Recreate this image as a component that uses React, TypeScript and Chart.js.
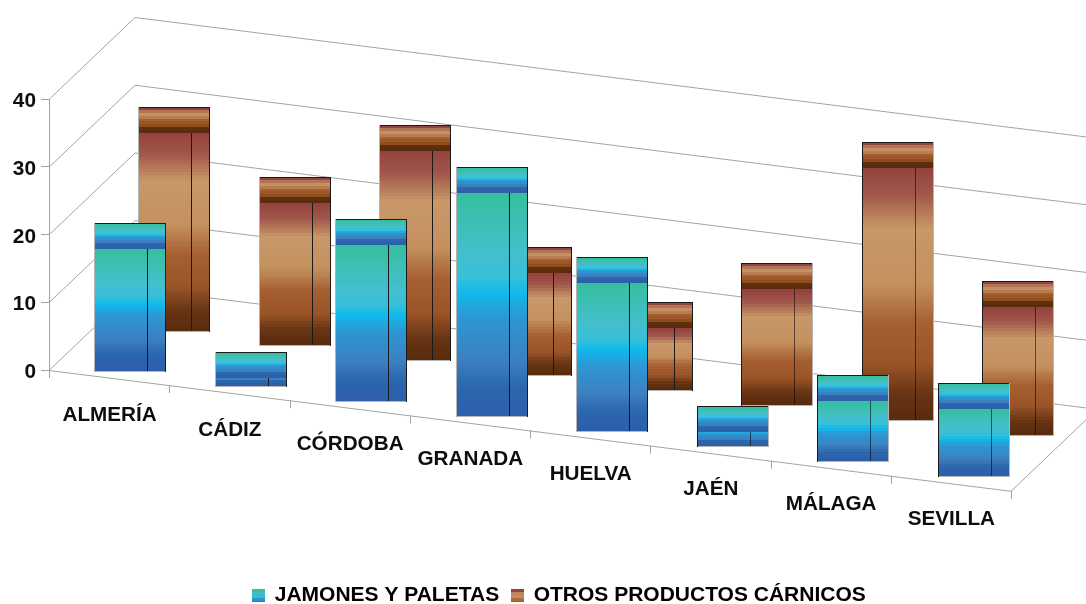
import React, { useEffect, useRef } from "react";
import { Chart, registerables } from "chart.js";

Chart.register(...registerables);

const categories = ["ALMERÍA", "CÁDIZ", "CÓRDOBA", "GRANADA", "HUELVA", "JAÉN", "MÁLAGA", "SEVILLA"];
const jamones = [18, 1.2, 23, 33, 21.9, 2.1, 8.9, 10];
const otros = [29.2, 21.1, 31, 15.2, 9.2, 17.2, 37.2, 18.9];
const seriesNames = ["JAMONES Y PALETAS", "OTROS PRODUCTOS CÁRNICOS"];
const yTicks = [0, 10, 20, 30, 40];

const FONT = '"Liberation Sans", Arial, sans-serif';
const TEXT = "#0d0d0d";
const GRID = "#a3a3a3";
const COOL: [number, string][] = [
  [0, "#35bf9f"], [0.1, "#3cbfb0"], [0.28, "#43bfce"], [0.38, "#38bfd8"], [0.45, "#10baec"], [0.55, "#2c98d4"], [0.75, "#3c80c0"], [0.88, "#2a66ad"], [1, "#2e5fab"],
];
const WARM: [number, string][] = [
  [0, "#95433f"], [0.1, "#a0574a"], [0.24, "#c89868"], [0.46, "#c49060"], [0.62, "#a55f30"], [0.78, "#9a5428"], [0.9, "#683514"], [1, "#5a2b0d"],
];
const WARM_TOP: [number, string][] = [
  [0, "#95433f"], [0.1, "#a8634f"], [0.18, "#c89868"], [0.32, "#c08a5c"], [0.5, "#a55f30"], [0.74, "#95501f"], [0.84, "#5f2f10"], [1, "#5a2b0d"],
];
const FLOOR_SLOPE = 0.1256;
const WALL_DX = 86;
const WALL_DY = -82;
const BAR_W = 52;
const SIDE_W = 18;
const TOP_H = 26;
const SERIES_SHIFT = [
  { dx: 12, dy: 1, perCatX: 0.3, perCatY: 15.1 },
  { dx: 56, dy: -39, perCatX: 0.35, perCatY: 14.9 },
];
const LABEL_Y = 415;
const LABEL_DROP = 14.85;

const rgb = (h: string) => [1, 3, 5].map((i) => parseInt(h.slice(i, i + 2), 16));
function sample(stops: [number, string][], t: number) {
  for (let i = 1; i < stops.length; i++) {
    if (t <= stops[i][0]) {
      const [t0, c0] = stops[i - 1];
      const [t1, c1] = stops[i];
      const k = (t - t0) / (t1 - t0);
      const a = rgb(c0), b = rgb(c1);
      return `rgb(${a.map((v, j) => Math.round(v + (b[j] - v) * k)).join(",")})`;
    }
  }
  return stops[stops.length - 1][1];
}
function stepped(ctx: CanvasRenderingContext2D, stops: [number, string][], y0: number, y1: number) {
  const g = ctx.createLinearGradient(0, y0, 0, y1);
  const n = Math.max(2, Math.round((y1 - y0) / 3));
  for (let k = 0; k < n; k++) {
    const c = sample(stops, k / (n - 1));
    g.addColorStop(k / n, c);
    g.addColorStop((k + 1) / n, c);
  }
  return g;
}
function line(ctx: CanvasRenderingContext2D, x0: number, y0: number, x1: number, y1: number, color: string) {
  ctx.strokeStyle = color;
  ctx.lineWidth = 1;
  ctx.beginPath();
  ctx.moveTo(x0, y0);
  ctx.lineTo(x1, y1);
  ctx.stroke();
}

const wallsPlugin = {
  id: "walls3d",
  afterLayout(chart: any) {
    if (chart.legend) {
      chart.legend.left = 33;
      chart.legend.right = 1086;
      chart.legend.top = 572;
    }
    const y = chart.scales.y;
    if (!y.__shifted) {
      y.__shifted = true;
      const orig = y.drawLabels;
      y.drawLabels = function (area: any) {
        chart.ctx.save();
        chart.ctx.translate(0, 2.5);
        orig.call(this, area);
        chart.ctx.restore();
      };
    }
  },
  beforeDatasetsDraw(chart: any) {
    const { ctx, chartArea, scales } = chart;
    const { left, right } = chartArea;
    const width = right - left;
    const drop = width * FLOOR_SLOPE;
    ctx.save();
    for (const v of yTicks) {
      const y = scales.y.getPixelForValue(v);
      line(ctx, left, y + 0.5, left + WALL_DX, y + WALL_DY + 0.5, GRID);
      line(ctx, left + WALL_DX, y + WALL_DY + 0.5, right + WALL_DX, y + WALL_DY + drop + 0.5, GRID);
    }
    const y0 = scales.y.getPixelForValue(0);
    line(ctx, left, y0 + 0.5, right, y0 + drop + 0.5, GRID);
    line(ctx, right, y0 + drop + 0.5, right + WALL_DX, y0 + drop + WALL_DY + 0.5, GRID);
    const step = width / categories.length;
    for (let i = 0; i <= categories.length; i++) {
      const x = Math.round(left + i * step) + 0.5;
      const y = y0 + (x - left) * FLOOR_SLOPE;
      line(ctx, x, y, x, y + 8, GRID);
    }
    ctx.fillStyle = TEXT;
    ctx.font = `bold 20.7px ${FONT}`;
    ctx.textAlign = "center";
    ctx.textBaseline = "middle";
    categories.forEach((_, i) => {
      const x = scales.x.getPixelForValue(i);
      ctx.fillText(scales.x.getLabelForValue(i), x + 0.5, LABEL_Y + i * LABEL_DROP);
    });
    ctx.restore();
  },
  beforeDatasetDraw(chart: any, args: any) {
    const { ctx } = chart;
    const shift = SERIES_SHIFT[args.index];
    const stops = args.index === 0 ? COOL : WARM;
    const topStops = args.index === 0 ? COOL : WARM_TOP;
    ctx.save();
    args.meta.data.forEach((el: any, i: number) => {
      const left = Math.round(el.x - el.width / 2 + shift.dx + i * shift.perCatX);
      const drift = i * shift.perCatY;
      const top = Math.round(el.y + shift.dy + drift);
      const bottom = Math.round(el.base + shift.dy + drift);
      const full = BAR_W + SIDE_W;
      const lateBar = i >= 5;
      ctx.fillStyle = stepped(ctx, stops, Math.min(top, bottom - TOP_H), bottom);
      ctx.fillRect(left, top, full, bottom - top);
      ctx.fillStyle = stepped(ctx, topStops, top - TOP_H, top);
      ctx.fillRect(left, top - TOP_H, full, TOP_H);
      line(ctx, left - 0.5, top - TOP_H, left - 0.5, bottom + 1, lateBar ? "#1a1a1a" : "#b5b5b5");
      line(ctx, left, bottom + 0.5, left + full, bottom + 0.5, "#b5b5b5");
      line(ctx, left, top - TOP_H + 0.5, left + full, top - TOP_H + 0.5, "#1a1a1a");
      line(ctx, left + full + 0.5, top - TOP_H, left + full + 0.5, bottom + 1, lateBar ? "#b5b5b5" : "#1a1a1a");
      line(ctx, left + BAR_W + 0.5, top, left + BAR_W + 0.5, bottom, lateBar ? "rgba(0,0,0,0.55)" : "#1a1a1a");
    });
    ctx.restore();
    return false;
  },
};

function swatch(stops: [number, string][], span: number) {
  const c = document.createElement("canvas");
  c.width = 13;
  c.height = 13;
  const g = c.getContext("2d")!;
  for (let y = 0; y < 13; y++) {
    g.fillStyle = sample(stops, ((Math.floor(y / 3) * 3) / 12) * span);
    g.fillRect(0, y, 13, 1);
  }
  return c;
}

export default function App() {
  const ref = useRef<HTMLCanvasElement>(null);
  useEffect(() => {
    const swatches = [swatch(COOL, 0.8), swatch(WARM_TOP, 0.6)];
    const chart = new Chart(ref.current!, {
      type: "bar",
      data: {
        labels: categories,
        datasets: [
          { label: seriesNames[0], data: jamones, backgroundColor: "#3c80c0" },
          { label: seriesNames[1], data: otros, backgroundColor: "#a05a2c" },
        ],
      },
      options: {
        responsive: false,
        animation: false,
        layout: { padding: { left: 0, top: 99, right: 75, bottom: 0 } },
        datasets: { bar: { grouped: false, barThickness: BAR_W } },
        plugins: {
          tooltip: { enabled: false },
          legend: {
            position: "bottom",
            maxHeight: 30,
            labels: {
              usePointStyle: true,
              boxWidth: 11,
              padding: 13,
              color: TEXT,
              font: { family: FONT, size: 21, weight: "bold" },
              generateLabels: (c: any) =>
                c.data.datasets.map((d: any, i: number) => ({
                  text: d.label,
                  fillStyle: d.backgroundColor,
                  pointStyle: swatches[i],
                  lineWidth: 0,
                  datasetIndex: i,
                  hidden: false,
                })),
            },
          },
        },
        scales: {
          x: {
            offset: true,
            grid: { display: false },
            border: { display: false },
            ticks: { display: false },
            afterFit: (s: any) => {
              s.height = 234 - 30;
            },
          },
          y: {
            min: 0,
            max: 40,
            afterFit: (s: any) => {
              s.width = 49;
            },
            grid: { drawOnChartArea: false, drawTicks: true, tickLength: 8, color: GRID },
            border: { color: GRID },
            ticks: {
              stepSize: 10,
              padding: 5,
              color: TEXT,
              font: { family: FONT, size: 20.8, weight: "bold" },
            },
          },
        },
      } as any,
      plugins: [wallsPlugin as any],
    });
    return () => chart.destroy();
  }, []);
  return (
    <div style={{ position: "absolute", left: 0, top: 0, width: 1086, height: 604, background: "#fff" }}>
      <canvas ref={ref} width={1086} height={604} style={{ display: "block" }} />
    </div>
  );
}
